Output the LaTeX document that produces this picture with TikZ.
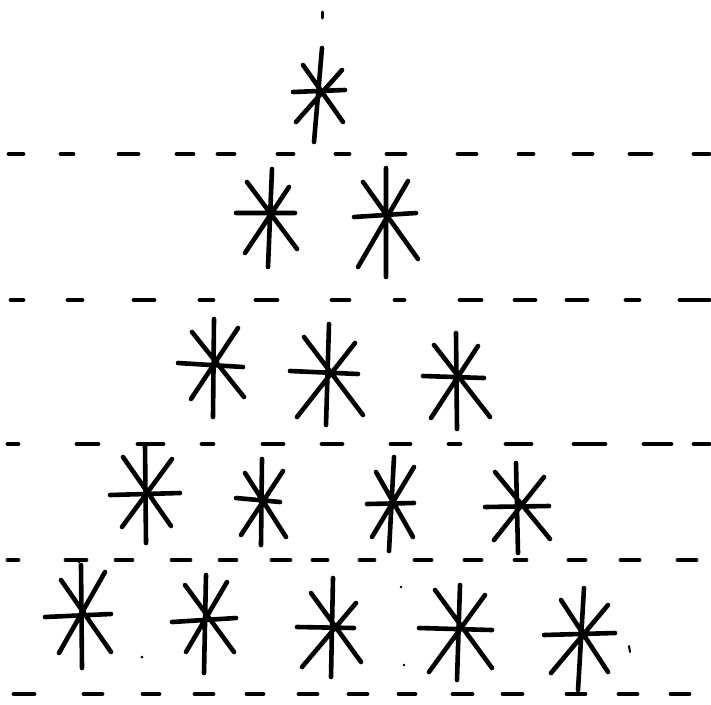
\documentclass[tikz,border=0pt]{standalone}
\begin{document}
\begin{tikzpicture}[x=1pt,y=-1pt,
  stroke/.style={line width=4.6pt,line cap=round,line join=round,black},
  dsh/.style={line width=4.8pt,line cap=round,black},
  speck/.style={fill=black}]
\useasboundingbox[fill=white] (0,0) rectangle (711,704);

% ---------- dashed lines ----------
\foreach \a/\b in {9/23,61/73,119/138,177/193,218/234,278/293,336/349,387/405,458/476,519/533,574/592,630/651,694/709}
  \draw[dsh] (\a,154)--(\b,154);
\foreach \a/\b in {11/23,68/82,134/154,200/213,256/277,332/349,395/404,460/481,515/535,567/587,626/639,680/709}
  \draw[dsh] (\a,300)--(\b,300);
\foreach \a/\b in {8/18,77/98,138/163,202/213,263/283,322/342,391/410,449/460,506/531,574/605,644/671,694/709}
  \draw[dsh] (\a,444)--(\b,444);
\foreach \a/\b in {8/18,66/86,116/132,172/190,220/236,272/290,313/327,360/374,415/431,465/481,515/526,569/585,621/639,678/696}
  \draw[dsh] (\a,560)--(\b,560);
\foreach \a/\b in {14/34,84/102,143/159,195/213,247/263,299/317,349/367,399/415,453/472,503/522,567/585,619/637,671/689}
  \draw[dsh] (\a,694)--(\b,694);

% ---------- row 1 ----------
\draw[stroke] (322,48)--(314,142) (293,92)--(345,90) (303,65)--(343,122) (342,70)--(296,122);

% ---------- row 2 ----------
\draw[stroke] (272,169)--(268,267) (236,213)--(295,213) (247,182)--(297,249) (289,187)--(245,253);
\draw[stroke] (386,168)--(386,277) (354,217)--(416,213) (363,182)--(418,259) (408,181)--(358,267);

% ---------- row 3 ----------
\draw[stroke] (214,319)--(213,417) (178,363)--(243,367) (192,332)--(244,397) (238,328)--(191,399);
\draw[stroke] (329,324)--(326,425) (290,371)--(358,374) (304,337)--(363,415) (355,343)--(297,417);
\draw[stroke] (456,333)--(457,429) (423,376)--(484,378) (434,345)--(490,417) (478,346)--(431,418);

% ---------- row 4 ----------
\draw[stroke] (145,445)--(146,543) (110,495)--(180,493) (123,457)--(171,526) (172,459)--(122,527);
\draw[stroke] (262,459)--(261,545) (236,498)--(280,502) (245,473)--(286,537) (283,471)--(241,535);
\draw[stroke] (394,457)--(389,551) (367,504)--(414,503) (376,472)--(413,537) (414,467)--(372,537);
\draw[stroke] (516,463)--(518,553) (485,507)--(549,506) (495,472)--(550,539) (544,477)--(494,540);

% ---------- row 5 ----------
\draw[stroke] (81,565)--(82,668) (45,617)--(111,614) (61,580)--(111,652) (105,572)--(59,653);
\draw[stroke] (206,575)--(204,673) (172,622)--(236,618) (185,585)--(234,652) (227,582)--(186,652);
\draw[stroke] (333,578)--(331,677) (297,627)--(354,628) (311,593)--(361,662) (356,603)--(302,667);
\draw[stroke] (460,585)--(457,680) (419,628)--(492,630) (435,590)--(492,668) (485,595)--(429,672);
\draw[stroke] (584,588)--(578,690) (544,635)--(615,633) (561,600)--(608,672) (608,605)--(551,673);

% ---------- specks ----------
\draw[line width=3pt,line cap=round] (322,12)--(322,18);
\fill[speck] (142,657) circle (1.5);
\fill[speck] (401,587) circle (1.3);
\fill[speck] (404,665) circle (1.3);
\draw[line width=2pt,line cap=round] (629,646)--(630,652);
\fill[speck] (79,562) circle (1.3);
\end{tikzpicture}
\end{document}
